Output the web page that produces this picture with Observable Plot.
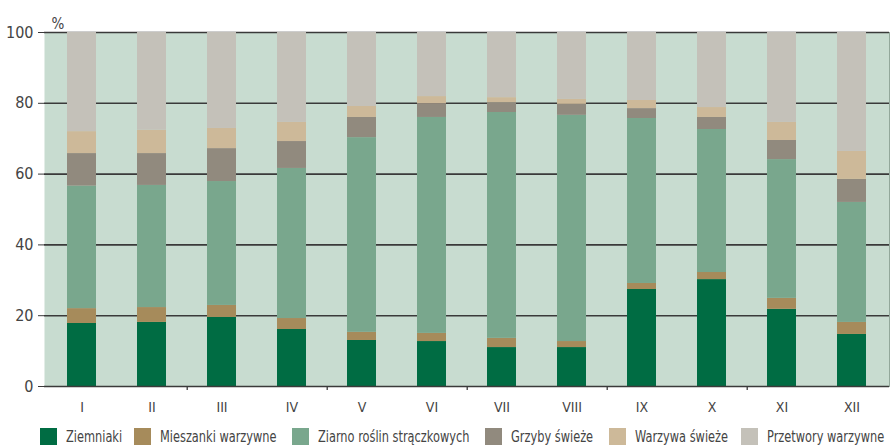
<!DOCTYPE html>
<html>
<head>
<meta charset="utf-8">
<script src="https://cdn.jsdelivr.net/npm/d3@7"></script>
<script src="https://cdn.jsdelivr.net/npm/@observablehq/plot@0.6"></script>
<style>
  html, body { margin: 0; padding: 0; background: #fff; }
  body { position: relative; width: 890px; height: 447px; overflow: hidden; font-family: "DejaVu Sans Condensed", "Open Sans", sans-serif; }
  #chart { position: absolute; left: 0; top: 0; }
  #legend { position: absolute; left: 0; top: 428px; width: 890px; height: 18px; font-size: 16px; line-height: 17px; color: #444; white-space: nowrap; }
  #legend .item { position: absolute; top: 0; height: 17px; }
  #legend .sw { position: absolute; left: 0; top: 0; width: 17px; height: 17px; }
  #legend .lbl { position: absolute; left: 26px; top: 0; display: inline-block; transform: scaleX(0.79); transform-origin: 0 50%; }
</style>
</head>
<body>
<div id="chart"></div>
<div id="legend"></div>
<script>
const months = ["I","II","III","IV","V","VI","VII","VIII","IX","X","XI","XII"];
const seriesNames = ["Ziemniaki","Mieszanki warzywne","Ziarno roślin strączkowych","Grzyby świeże","Warzywa świeże","Przetwory warzywne"];
const seriesColors = ["#006c43","#a68b5b","#79a78d","#918a7e","#cdb999","#c4c1b9"];
const ziemniaki  = [17.8, 18.1, 19.5, 16.1, 13.0, 12.7, 11.0, 11.0, 27.4, 30.2, 21.8, 14.7];
const mieszanki  = [ 4.2,  4.2,  3.4,  3.1,  2.3,  2.3,  2.6,  1.7,  1.7,  2.0,  3.1,  3.4];
const ziarno     = [34.6, 34.5, 35.0, 42.4, 55.0, 61.0, 63.8, 63.9, 46.6, 40.4, 39.2, 33.9];
const grzyby     = [ 9.2,  9.0,  9.3,  7.6,  5.7,  3.9,  2.8,  3.1,  2.8,  3.4,  5.4,  6.5];
const warzywa    = [ 6.2,  6.6,  5.7,  5.4,  3.1,  2.0,  1.4,  1.4,  2.3,  2.8,  5.1,  7.9];
const przetwory  = [28.0, 27.6, 27.1, 25.4, 20.9, 18.1, 18.4, 18.9, 19.2, 21.2, 25.4, 33.6];
const yTicks = [0, 20, 40, 60, 80, 100];
const yUnit = "%";

const seriesValues = [ziemniaki, mieszanki, ziarno, grzyby, warzywa, przetwory];
const data = [];
months.forEach((m, i) => {
  seriesNames.forEach((s, j) => data.push({month: m, series: s, value: seriesValues[j][i]}));
});

// layout
const W = 890, H = 425, mL = 44, mR = 1, mT = 32, mB = 39;
const step = (W - mL - mR) / months.length;
const pairTicks = months.filter((d, i) => i % 2 === 1 && i < months.length - 1);
const font = `"DejaVu Sans Condensed", "Open Sans", sans-serif`;
const legendLeft = [40, 134, 292, 485, 609, 741];

const chart = Plot.plot({
  width: W, height: H,
  marginLeft: mL, marginRight: mR, marginTop: mT, marginBottom: mB,
  style: {fontFamily: font, color: "#444", background: "transparent"},
  x: {domain: months, paddingInner: 0.58, paddingOuter: 0.29, label: null},
  y: {domain: [0, 100], label: null},
  color: {domain: seriesNames, range: seriesColors},
  marks: [
    Plot.frame({fill: "#c8dcd0", stroke: null}),
    Plot.frame({anchor: "right", stroke: "#93a89b", strokeWidth: 1}),
    Plot.ruleY(yTicks.filter(d => d > 0), {stroke: "#3a3a3a", strokeWidth: 1.6}),
    Plot.barY(data, {x: "month", y: "value", fill: "series", order: null}),
    Plot.ruleX(pairTicks, {x: d => d, y1: 0, y2: 0, insetBottom: -4, dx: step / 2, stroke: "#3a3a3a", strokeWidth: 1.3}),
    Plot.axisY({ticks: yTicks, tickSize: 6, tickPadding: 5, fontSize: 16, label: null, stroke: "#3a3a3a"}),
    Plot.axisX({tickSize: 0, tickPadding: 16, fontSize: 14, label: null}),
    Plot.ruleX([0], {frameAnchor: "left", stroke: "#3a3a3a", strokeWidth: 1.6, insetBottom: -4}),
    Plot.ruleY([0], {stroke: "#3a3a3a", strokeWidth: 1.6}),
    Plot.text([yUnit], {frameAnchor: "top-left", dx: 7, dy: -14, fontSize: 15, fill: "#444"})
  ]
});
document.getElementById("chart").appendChild(chart);

const legend = document.getElementById("legend");
seriesNames.forEach((s, j) => {
  const item = document.createElement("div");
  item.className = "item";
  item.style.left = legendLeft[j] + "px";
  const sw = document.createElement("span");
  sw.className = "sw";
  sw.style.background = seriesColors[j];
  const t = document.createElement("span");
  t.className = "lbl";
  t.textContent = s;
  item.appendChild(sw); item.appendChild(t);
  legend.appendChild(item);
});
</script>
</body>
</html>
